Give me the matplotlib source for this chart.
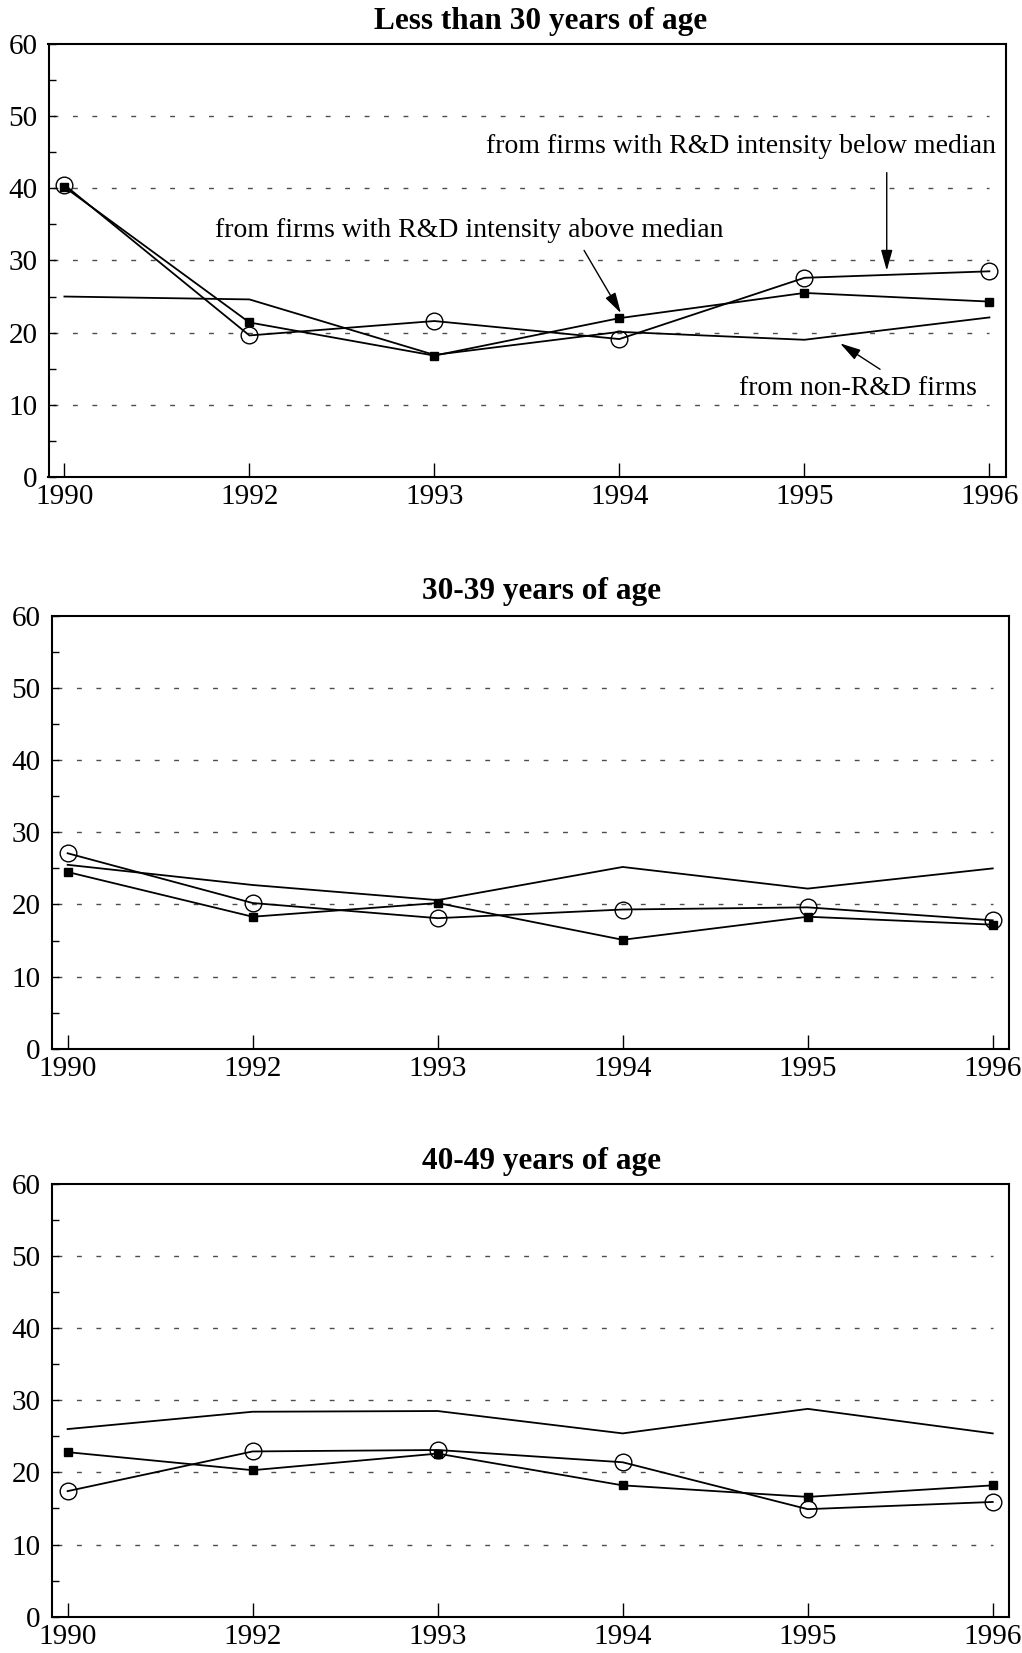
import matplotlib
matplotlib.use("Agg")
import matplotlib.pyplot as plt

plt.rcParams['font.family'] = ['Liberation Serif', 'DejaVu Serif']

years = ["1990", "1992", "1993", "1994", "1995", "1996"]

titles = ["Less than 30 years of age", "30-39 years of age", "40-49 years of age"]

# below-median R&D intensity (open circles)
below = [
    [40.5, 19.6, 21.6, 19.1, 27.6, 28.5],
    [27.1, 20.2, 18.1, 19.3, 19.6, 17.8],
    [17.4, 22.9, 23.1, 21.4, 14.9, 15.9],
]
# above-median R&D intensity (filled squares)
above = [
    [40.2, 21.4, 16.8, 22.0, 25.5, 24.3],
    [24.5, 18.3, 20.2, 15.1, 18.3, 17.2],
    [22.8, 20.3, 22.6, 18.2, 16.6, 18.2],
]
# non-R&D firms (plain line)
nonrd = [
    [25.0, 24.6, 16.9, 20.1, 19.0, 22.1],
    [25.5, 22.7, 20.6, 25.2, 22.2, 25.0],
    [26.0, 28.4, 28.5, 25.4, 28.8, 25.4],
]

W, H = 1022, 1653
fig = plt.figure(figsize=(W / 100, H / 100), dpi=100)

# axes boxes in pixels: left, top, right, bottom
boxes = [(48.5, 44.3, 1005.7, 476.7),
         (51.7, 616.0, 1009.0, 1048.7),
         (51.7, 1183.7, 1009.0, 1616.7)]
title_base = [29, 599, 1169]

x = list(range(len(years)))

for i, (l, t, r, b) in enumerate(boxes):
    ax = fig.add_axes([l / W, 1 - b / H, (r - l) / W, (b - t) / H])
    ax.hlines([10, 20, 30, 40, 50], -0.06, 5.0, colors='0.3', lw=1.0,
              linestyles=(0, (3.5, 10.5)), zorder=1)
    ax.plot(x, nonrd[i], color='k', lw=1.3, zorder=2)
    ax.plot(x, above[i], color='k', lw=1.3, marker='s', ms=6,
            mfc='k', mec='k', zorder=3)
    ax.plot(x, below[i], color='k', lw=1.3, marker='o', ms=12,
            mfc='none', mec='k', mew=1.0, zorder=4)

    ax.set_xlim(-0.086, 5.088)
    ax.set_ylim(0, 60)
    ax.set_xticks(x)
    ax.set_xticklabels(years)
    ax.set_yticks(range(0, 61, 10))
    ax.set_yticks(range(5, 60, 10), minor=True)
    ax.tick_params(axis='x', direction='in', length=10, width=1, pad=5,
                   labelsize=21)
    ax.tick_params(axis='y', which='both', direction='in', length=5,
                   width=1, pad=8, labelsize=21)
    for s in ax.spines.values():
        s.set_linewidth(1.5)

    fig.text(541 / W, 1 - title_base[i] / H, titles[i], ha='center',
             va='baseline', fontsize=22.5, fontweight='bold')

    if i == 0:
        arrow = dict(arrowstyle='-|>,head_length=0.9,head_width=0.25',
                     color='k', lw=1.0, mutation_scale=14, shrinkA=0,
                     shrinkB=0)
        ax.text(3.658, 45.8, "from firms with R&D intensity below median",
                ha='center', va='center', fontsize=20)
        ax.annotate('', xy=(4.445, 28.6), xytext=(4.445, 42.2),
                    arrowprops=arrow)
        ax.text(2.187, 34.2, "from firms with R&D intensity above median",
                ha='center', va='center', fontsize=20)
        ax.annotate('', xy=(3.008, 22.7), xytext=(2.809, 31.4),
                    arrowprops=arrow)
        ax.text(4.29, 12.3, "from non-R&D firms", ha='center', va='center',
                fontsize=20)
        ax.annotate('', xy=(4.193, 18.5), xytext=(4.409, 14.9),
                    arrowprops=arrow)

fig.savefig("out.png", dpi=100)
